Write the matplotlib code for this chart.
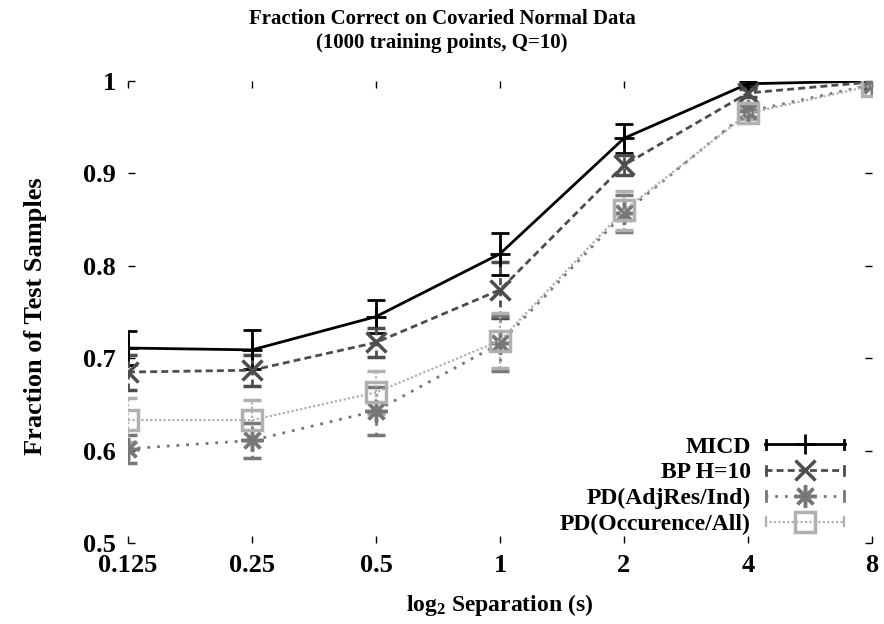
import matplotlib
matplotlib.use('Agg')
import matplotlib.pyplot as plt
from matplotlib.legend_handler import HandlerLine2D
from matplotlib.lines import Line2D

plt.rcParams['font.family'] = ['Liberation Serif', 'DejaVu Serif']
plt.rcParams['font.weight'] = 'bold'
plt.rcParams['axes.labelweight'] = 'bold'
plt.rcParams['axes.titleweight'] = 'bold'
plt.rcParams['mathtext.fontset'] = 'custom'
plt.rcParams['mathtext.rm'] = 'Liberation Serif:bold'
plt.rcParams['mathtext.it'] = 'Liberation Serif:bold'
plt.rcParams['mathtext.bf'] = 'Liberation Serif:bold'

# ---- data ----
separation = [0.125, 0.25, 0.5, 1, 2, 4, 8]
tick_labels = ['0.125', '0.25', '0.5', '1', '2', '4', '8']
y_ticks = [0.5, 0.6, 0.7, 0.8, 0.9, 1.0]
y_tick_labels = ['0.5', '0.6', '0.7', '0.8', '0.9', '1']

micd = [0.711, 0.709, 0.745, 0.813, 0.938, 0.997, 1.0]
micd_err = [0.018, 0.021, 0.018, 0.023, 0.016, 0.003, 0.001]
bp = [0.685, 0.687, 0.717, 0.774, 0.909, 0.987, 0.999]
bp_err = [0.019, 0.017, 0.016, 0.030, 0.011, 0.004, 0.001]
pd_adj = [0.602, 0.611, 0.643, 0.716, 0.857, 0.967, 0.996]
pd_adj_err = [0.015, 0.019, 0.026, 0.030, 0.020, 0.006, 0.002]
pd_occ = [0.633, 0.633, 0.663, 0.719, 0.860, 0.965, 0.995]
pd_occ_err = [0.024, 0.022, 0.023, 0.030, 0.021, 0.006, 0.002]

labels = ['MICD', 'BP H=10', 'PD(AdjRes/Ind)', 'PD(Occurence/All)']

FS_LEG = 17
FS_TICK = 19
FS_TITLE = 15

fig = plt.figure(figsize=(8.84, 6.24), dpi=100)
ax = fig.add_axes([128/884, 1-543/624, 744/884, 462/624])

styles = [
    dict(color='black', dashes=None, marker='+', ms=14, mew=2, lw=2.0, mfc='black'),
    dict(color='#4d4d4d', dashes=(2.5, 1.5), marker='x', ms=14, mew=2.5, lw=2.0, mfc='#4d4d4d'),
    dict(color='#777777', dashes=(1, 2.5), marker=(8, 2, 0), ms=16, mew=2.5, lw=2.0, mfc='#777777'),
    dict(color='#b0b0b0', dashes=(1, 1), marker='s', ms=15, mew=2.5, lw=1.6, mfc='none'),
]
series = [(micd, micd_err), (bp, bp_err), (pd_adj, pd_adj_err), (pd_occ, pd_occ_err)]

handles = []
for (vals, errs), st, lab in zip(series, styles, labels):
    eb = ax.errorbar(separation, vals, yerr=errs, color=st['color'], lw=st['lw'],
                     marker=st['marker'], ms=st['ms'], mew=st['mew'], mfc=st['mfc'],
                     capsize=6.5, capthick=st['lw'], elinewidth=st['lw'], label=lab)
    line = eb[0]
    if st['dashes'] is not None:
        line.set_dashes(st['dashes'])
        for lc in eb[2]:
            lc.set_linestyle((0, st['dashes']))
    handles.append(line)


class HandlerCapLine(HandlerLine2D):
    def create_artists(self, legend, orig_handle, xdescent, ydescent, width,
                       height, fontsize, trans):
        arts = super().create_artists(legend, orig_handle, xdescent, ydescent,
                                      width, height, fontsize, trans)
        yc = (height - ydescent) / 2
        h = height * 0.55
        for xx in (-xdescent + 1, -xdescent + width - 1):
            cap = Line2D([xx, xx], [yc - h / 2, yc + h / 2],
                         color=orig_handle.get_color(),
                         lw=orig_handle.get_linewidth())
            cap.set_transform(trans)
            arts.append(cap)
        return arts


leg = ax.legend(handles=handles, labels=labels, loc='lower right',
                bbox_to_anchor=(845/884, 1-535/624), bbox_transform=fig.transFigure,
                markerfirst=False, frameon=False, fontsize=FS_LEG, numpoints=1,
                handlelength=80 / (FS_LEG*100/72), handletextpad=0.6, labelspacing=0.18,
                borderpad=0, borderaxespad=0,
                handler_map={Line2D: HandlerCapLine()})

ax.set_xscale('log', base=2)
ax.set_xlim(0.125, 8)
ax.set_ylim(0.5, 1.0)
ax.set_xticks(separation)
ax.set_xticklabels(tick_labels)
ax.set_yticks(y_ticks)
ax.set_yticklabels(y_tick_labels)
ax.minorticks_off()
for s in ax.spines.values():
    s.set_visible(False)
ax.tick_params(direction='in', length=5, width=1, top=True, right=True,
               labelsize=FS_TICK, colors='black')
ax.tick_params(axis='y', pad=8.5)
ax.tick_params(axis='x', pad=8)

ax.set_xlabel(r'log$_{2}$ Separation (s)', fontsize=17, fontweight='bold')
ax.xaxis.set_label_coords(0.5, -0.105)
ax.set_ylabel('Fraction of Test Samples', fontsize=19, fontweight='bold')
ax.yaxis.set_label_coords(-0.109, 0.49)
fig.text(0.5, 1 - 9/624, 'Fraction Correct on Covaried Normal Data\n(1000 training points, Q=10)',
         fontsize=FS_TITLE, fontweight='bold', linespacing=1.25, ha='center', va='top')

fig.savefig('out.png', dpi=100)
